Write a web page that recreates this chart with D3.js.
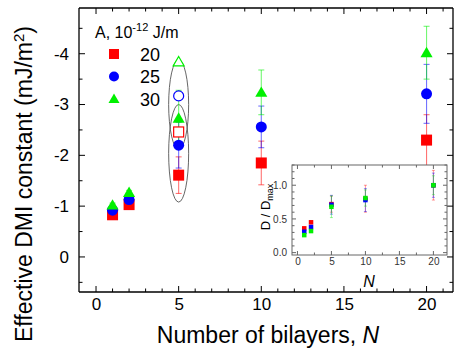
<!DOCTYPE html>
<html><head><meta charset="utf-8">
<script src="https://cdn.jsdelivr.net/npm/d3@7"></script>
<style>body{margin:0;background:#fff}svg{display:block;font-family:"Liberation Sans",Arial,sans-serif}</style>
</head><body><svg id="c" width="455" height="356"></svg>
<script>
const N = [1, 2, 5, 10, 20];
const seriesNames = ["20", "25", "30"];
const colors = ["#ff0000", "#0000ff", "#00f000"];
const shapes = ["square", "circle", "triangle"];
const D20 = [-0.83, -1.03, -1.61, -1.85, -2.30];
const D25 = [-0.92, -1.13, -2.20, -2.56, -3.21];
const D30 = [-1.02, -1.27, -2.73, -3.24, -4.02];
const E20 = [0.04, 0.04, 0.36, 0.43, 0.50];
const E25 = [0.04, 0.04, 0.45, 0.41, 0.58];
const E30 = [0.04, 0.04, 0.55, 0.44, 0.52];
const openN = 5;
const openVals = [-2.46, -3.17, -3.84];
const ellipses = [[-3.88, -2.12], [-3.0, -1.08]]; // y extents of the two ellipses around N=5
const xTicks = [0, 5, 10, 15, 20];
const yTicks = [0, -1, -2, -3, -4];
const R20 = [0.36, 0.45, 0.72, 0.80, 1.00];
const R25 = [0.31, 0.38, 0.71, 0.78, 1.00];
const R30 = [0.26, 0.32, 0.68, 0.81, 1.00];
const RE20 = [0.02, 0.02, 0.12, 0.20, 0.22];
const RE25 = [0.02, 0.02, 0.14, 0.17, 0.18];
const RE30 = [0.02, 0.02, 0.16, 0.12, 0.14];
const insetXTicks = [0, 5, 10, 15, 20];
const insetYTicks = [0.0, 0.5, 1.0];

const svg = d3.select("#c");
const x = d3.scaleLinear().domain([-1.03, 21.6]).range([79, 453]);
const y = d3.scaleLinear().domain([0.69, -4.9]).range([292, 8]);

const vals = [D20, D25, D30], errs = [E20, E25, E30];

function marker(g, shape, cx, cy, size, color, filled) {
  const fill = filled ? color : "#fff";
  const sw = filled ? 0 : 1.2;
  if (shape === "square") {
    g.append("rect").attr("x", cx - size / 2).attr("y", cy - size / 2).attr("width", size).attr("height", size)
      .attr("fill", fill).attr("stroke", color).attr("stroke-width", sw);
  } else if (shape === "circle") {
    g.append("circle").attr("cx", cx).attr("cy", cy).attr("r", size / 2)
      .attr("fill", fill).attr("stroke", color).attr("stroke-width", sw);
  } else {
    const h = size * 0.9, w = size * 1.1;
    g.append("path").attr("d", `M${cx},${cy - h * 0.6}L${cx + w / 2},${cy + h * 0.45}L${cx - w / 2},${cy + h * 0.45}Z`)
      .attr("fill", fill).attr("stroke", color).attr("stroke-width", sw);
  }
}

// axes frame lines
const ax = svg.append("g").attr("stroke", "#000").attr("stroke-width", 1.3);
ax.append("line").attr("x1", x.range()[0]).attr("x2", x.range()[1]).attr("y1", 292).attr("y2", 292);
ax.append("line").attr("x1", x.range()[0]).attr("x2", x.range()[1]).attr("y1", 8).attr("y2", 8);
ax.append("line").attr("x1", 79).attr("x2", 79).attr("y1", 8).attr("y2", 292);
ax.append("line").attr("x1", 453).attr("x2", 453).attr("y1", 8).attr("y2", 292);

// ticks
const xt = d3.range(0, 22, 1);
xt.forEach(v => {
  const L = v % 5 === 0 ? 6 : 3.5;
  ax.append("line").attr("x1", x(v)).attr("x2", x(v)).attr("y1", 292).attr("y2", 292 - L).attr("stroke-width", 1);
  ax.append("line").attr("x1", x(v)).attr("x2", x(v)).attr("y1", 8).attr("y2", 8 + L).attr("stroke-width", 1);
});
const yt = d3.range(0.5, -5, -0.5);
yt.forEach(v => {
  const L = Number.isInteger(v) ? 6 : 3.5;
  ax.append("line").attr("x1", 79).attr("x2", 79 + L).attr("y1", y(v)).attr("y2", y(v)).attr("stroke-width", 1);
  ax.append("line").attr("x1", 453).attr("x2", 453 - L).attr("y1", y(v)).attr("y2", y(v)).attr("stroke-width", 1);
});
const xAxis = d3.axisBottom(x).tickValues(xTicks).tickSize(0).tickPadding(0).tickFormat(d3.format("d"));
const gx = svg.append("g").attr("transform", "translate(0,298)").call(xAxis);
gx.select(".domain").remove();
gx.selectAll("text").attr("font-size", 17).attr("font-family", "Liberation Sans, Arial").attr("fill", "#000");
const yAxis = d3.axisLeft(y).tickValues(yTicks).tickSize(0).tickPadding(0).tickFormat(d => d === 0 ? "0" : "-" + Math.abs(d));
const gy = svg.append("g").attr("transform", "translate(69,0)").call(yAxis);
gy.select(".domain").remove();
gy.selectAll("text").attr("font-size", 17).attr("font-family", "Liberation Sans, Arial").attr("fill", "#000");

// axis titles
svg.append("text").attr("x", 268).attr("y", 343).attr("text-anchor", "middle").attr("font-size", 23)
  .html('Number of bilayers, <tspan font-style="italic">N</tspan>');
svg.append("text").attr("transform", "translate(32,184) rotate(-90)").attr("text-anchor", "middle").attr("font-size", 23)
  .html('Effective DMI constant (mJ/m<tspan dy="-8" font-size="15">2</tspan><tspan dy="8">)</tspan>');

// ellipses
const eg = svg.append("g").attr("fill", "none").attr("stroke", "#555").attr("stroke-width", 0.9);
ellipses.forEach(e => {
  eg.append("ellipse").attr("cx", x(openN)).attr("cy", (y(e[0]) + y(e[1])) / 2)
    .attr("rx", 10).attr("ry", Math.abs(y(e[1]) - y(e[0])) / 2);
});

// error bars
const erg = svg.append("g");
vals.forEach((vs, si) => {
  vs.forEach((v, i) => {
    const cx = x(N[i]), lo = y(v - errs[si][i]), hi = y(v + errs[si][i]);
    const g = erg.append("g").attr("stroke", colors[si]).attr("stroke-opacity", 0.55).attr("stroke-width", 1.1);
    g.append("line").attr("x1", cx).attr("x2", cx).attr("y1", lo).attr("y2", hi);
    g.append("line").attr("x1", cx - 3).attr("x2", cx + 3).attr("y1", lo).attr("y2", lo);
    g.append("line").attr("x1", cx - 3).attr("x2", cx + 3).attr("y1", hi).attr("y2", hi);
  });
});

// open markers
const og = svg.append("g");
openVals.forEach((v, si) => marker(og, shapes[si], x(openN), y(v), 10, colors[si], false));

// filled markers
const mg = svg.append("g");
vals.forEach((vs, si) => vs.forEach((v, i) => marker(mg, shapes[si], x(N[i]), y(v), 11, colors[si], true)));

// legend
svg.append("text").attr("x", 95).attr("y", 38).attr("font-size", 16)
  .html('A, 10<tspan dy="-7" font-size="11">-12</tspan><tspan dy="7"> J/m</tspan>');
const lg = svg.append("g");
seriesNames.forEach((s, i) => {
  const cy = 54 + i * 22.5;
  marker(lg, shapes[i], 114, cy, 10, colors[i], true);
  lg.append("text").attr("x", 140).attr("y", cy + 6.5).attr("font-size", 18).text(s);
});

// inset
const ix = d3.scaleLinear().domain([-0.8, 22]).range([292, 447]);
const iy = d3.scaleLinear().domain([-0.035, 1.3]).range([255, 165]);
const ig = svg.append("g");
ig.append("rect").attr("x", 292).attr("y", 165).attr("width", 155).attr("height", 90).attr("fill", "#fff")
  .attr("stroke", "#666").attr("stroke-width", 1);
d3.range(0, 22.5, 2.5).forEach(v => {
  const L = v % 5 === 0 ? 4 : 2.5;
  ig.append("line").attr("x1", ix(v)).attr("x2", ix(v)).attr("y1", 255).attr("y2", 255 - L).attr("stroke", "#666");
  ig.append("line").attr("x1", ix(v)).attr("x2", ix(v)).attr("y1", 165).attr("y2", 165 + L).attr("stroke", "#666");
});
d3.range(0, 1.35, 0.1).forEach(v => {
  const L = Math.abs(v * 2 - Math.round(v * 2)) < 1e-6 ? 4 : 2.5;
  ig.append("line").attr("x1", 292).attr("x2", 292 + L).attr("y1", iy(v)).attr("y2", iy(v)).attr("stroke", "#666");
  ig.append("line").attr("x1", 447).attr("x2", 447 - L).attr("y1", iy(v)).attr("y2", iy(v)).attr("stroke", "#666");
});
const ixa = ig.append("g").attr("transform", "translate(0,258)")
  .call(d3.axisBottom(ix).tickValues(insetXTicks).tickSize(0).tickPadding(0).tickFormat(d3.format("d")));
ixa.select(".domain").remove();
ixa.selectAll("text").attr("font-size", 10).attr("fill", "#333").attr("font-family", "Liberation Sans, Arial");
const iya = ig.append("g").attr("transform", "translate(287,0)")
  .call(d3.axisLeft(iy).tickValues(insetYTicks).tickSize(0).tickPadding(0).tickFormat(d3.format(".1f")));
iya.select(".domain").remove();
iya.selectAll("text").attr("font-size", 10).attr("fill", "#333").attr("font-family", "Liberation Sans, Arial");
ig.append("text").attr("x", 369).attr("y", 287).attr("text-anchor", "middle").attr("font-size", 16)
  .attr("font-style", "italic").text("N");
ig.append("text").attr("transform", "translate(270,207) rotate(-90)").attr("text-anchor", "middle").attr("font-size", 13)
  .html('D / D<tspan dy="3" font-size="9">max</tspan>');

const rv = [R20, R25, R30], re = [RE20, RE25, RE30];
rv.forEach((vs, si) => vs.forEach((v, i) => {
  const cx = ix(N[i]), lo = iy(v - re[si][i]), hi = iy(v + re[si][i]);
  const g = ig.append("g").attr("stroke", colors[si]).attr("stroke-opacity", 0.4).attr("stroke-width", 1);
  g.append("line").attr("x1", cx).attr("x2", cx).attr("y1", lo).attr("y2", hi);
  g.append("line").attr("x1", cx - 1.5).attr("x2", cx + 1.5).attr("y1", lo).attr("y2", lo);
  g.append("line").attr("x1", cx - 1.5).attr("x2", cx + 1.5).attr("y1", hi).attr("y2", hi);
}));
rv.forEach((vs, si) => vs.forEach((v, i) => {
  marker(ig, "square", ix(N[i]), iy(v), 4.5, colors[si], true);
}));
</script></body></html>
